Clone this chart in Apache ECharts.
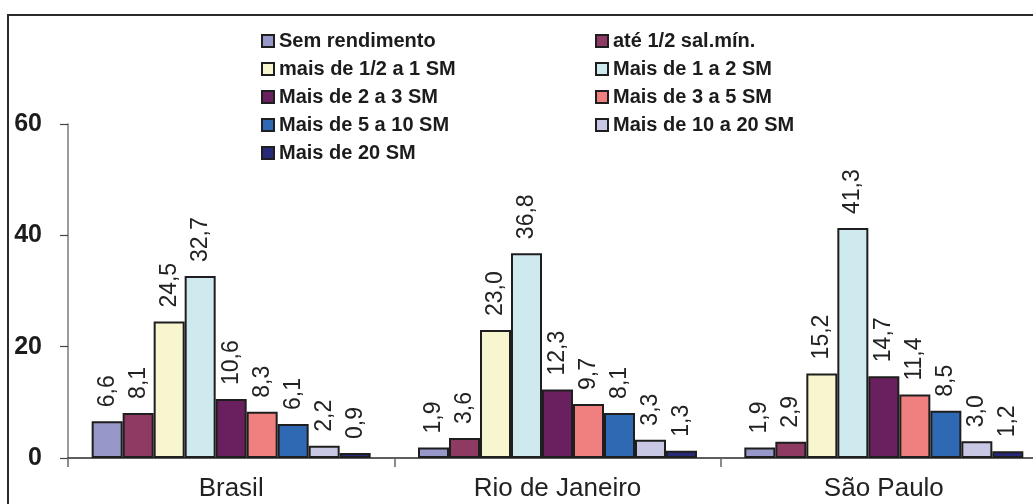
<!DOCTYPE html>
<html>
<head>
<meta charset="utf-8">
<script src="https://cdn.jsdelivr.net/npm/echarts@6/dist/echarts.min.js"></script>
<style>
  html, body { margin: 0; padding: 0; background: #fff; }
  #chart { width: 1033px; height: 504px; }
</style>
</head>
<body>
<div id="chart"></div>
<script>
// Regions on the category axis
const regions = ['Brasil', 'Rio de Janeiro', 'São Paulo'];

// Income brackets (salários mínimos)
const brackets = [
  'Sem rendimento',
  'até 1/2 sal.mín.',
  'mais de 1/2 a 1 SM',
  'Mais de 1 a 2 SM',
  'Mais de 2 a 3 SM',
  'Mais de 3 a 5 SM',
  'Mais de 5 a 10 SM',
  'Mais de 10 a 20 SM',
  'Mais de 20 SM'
];

const bracketColors = [
  '#9797c9', '#8f3a62', '#f8f6cf', '#cfeaee', '#6a1f5e',
  '#f08080', '#2f68b3', '#c9c8e4', '#262a78'
];

// Percentages per bracket, in region order: Brasil, Rio de Janeiro, São Paulo
const semRendimento = [6.6, 1.9, 1.9];
const ateMeioSM     = [8.1, 3.6, 2.9];
const meioA1SM      = [24.5, 23.0, 15.2];
const de1a2SM       = [32.7, 36.8, 41.3];
const de2a3SM       = [10.6, 12.3, 14.7];
const de3a5SM       = [8.3, 9.7, 11.4];
const de5a10SM      = [6.1, 8.1, 8.5];
const de10a20SM     = [2.2, 3.3, 3.0];
const mais20SM      = [0.9, 1.3, 1.2];

const yTicks = [0, 20, 40, 60];

const seriesValues = [
  semRendimento, ateMeioSM, meioA1SM, de1a2SM, de2a3SM,
  de3a5SM, de5a10SM, de10a20SM, mais20SM
];

const chart = echarts.init(document.getElementById('chart'));

const legendText = {
  fontFamily: 'Liberation Sans, Arial, sans-serif',
  fontWeight: 'bold',
  fontSize: 20,
  color: '#1c1c1c',
  lineHeight: 20
};

chart.setOption({
  animation: false,
  backgroundColor: '#ffffff',
  graphic: [{
    type: 'polyline',
    shape: { points: [[8, 510], [8, 15], [1040, 15]] },
    style: { stroke: '#2a2a2a', lineWidth: 2, fill: null },
    silent: true
  }],
  legend: [
    {
      orient: 'vertical',
      left: 256, top: 26,
      itemWidth: 12, itemHeight: 12, itemGap: 8,
      icon: 'rect',
      textStyle: legendText,
      data: brackets.filter((_, i) => i % 2 === 0)
    },
    {
      orient: 'vertical',
      left: 590, top: 26,
      itemWidth: 12, itemHeight: 12, itemGap: 8,
      icon: 'rect',
      textStyle: legendText,
      data: brackets.filter((_, i) => i % 2 === 1)
    }
  ],
  grid: {
    left: 68, top: 124, width: 979, bottom: 46,
    containLabel: false,
    outerBoundsMode: 'none'
  },
  xAxis: {
    type: 'category',
    data: regions,
    axisLine: { lineStyle: { color: '#2a2a2a', width: 1.5 } },
    axisTick: { show: true, length: 9, lineStyle: { color: '#666', width: 1.5 } },
    axisLabel: {
      margin: 18,
      fontFamily: 'Liberation Sans, Arial, sans-serif',
      fontSize: 26,
      color: '#222'
    }
  },
  yAxis: {
    type: 'value',
    min: yTicks[0],
    max: yTicks[yTicks.length - 1],
    interval: 20,
    splitLine: { show: false },
    axisLine: { show: true, lineStyle: { color: '#7a7a7a', width: 1.5 } },
    axisTick: { show: true, length: 8, lineStyle: { color: '#444', width: 1.2 } },
    axisLabel: {
      margin: 26,
      fontFamily: 'Liberation Sans, Arial, sans-serif',
      fontWeight: 'bold',
      fontSize: 25,
      color: '#1c1c1c'
    }
  },
  series: brackets.map((name, i) => ({
    name,
    type: 'bar',
    data: seriesValues[i],
    barWidth: 31,
    barGap: '0%',
    itemStyle: {
      color: bracketColors[i],
      borderColor: '#1e1e1e',
      borderWidth: 2
    },
    label: {
      show: true,
      position: 'top',
      rotate: 90,
      align: 'left',
      verticalAlign: 'middle',
      distance: 14,
      fontFamily: 'Liberation Sans, Arial, sans-serif',
      fontSize: 23,
      color: '#222',
      formatter: p => p.value.toFixed(1).replace('.', ',')
    }
  }))
});
</script>
</body>
</html>
